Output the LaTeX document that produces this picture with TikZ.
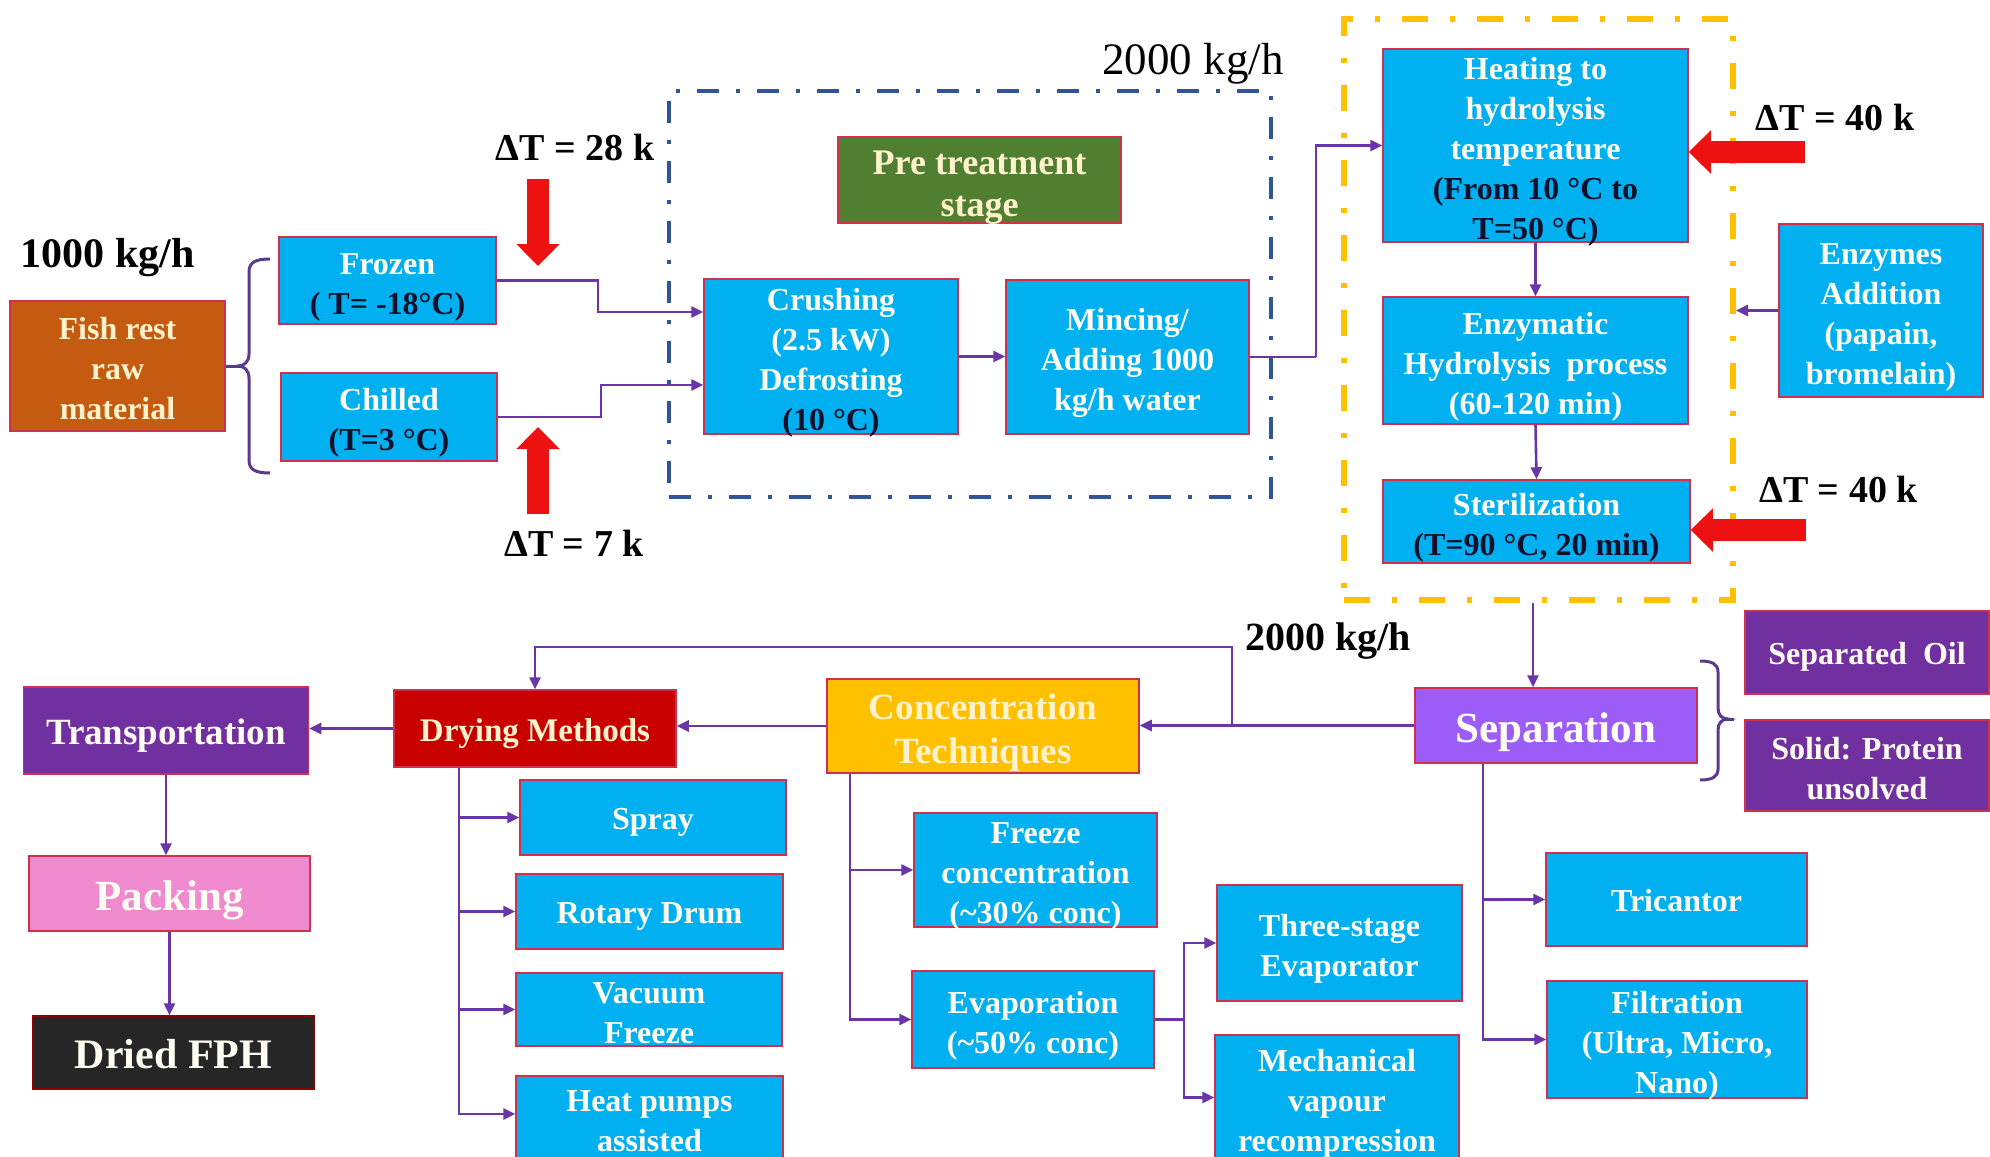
\documentclass[tikz,border=0pt]{standalone}
\usepackage{fontspec}
\setmainfont{Liberation Serif}
\usetikzlibrary{arrows.meta}
\definecolor{cblue}{HTML}{00B0F0}
\definecolor{cbord}{HTML}{D0304E}
\definecolor{cconn}{HTML}{6A35A6}
\definecolor{cbrace}{HTML}{5B3A8C}
\definecolor{cfish}{HTML}{C55A11}
\definecolor{cgreen}{HTML}{517F31}
\definecolor{corange}{HTML}{FFC000}
\definecolor{cdry}{HTML}{C80000}
\definecolor{cpurple}{HTML}{7030A0}
\definecolor{cpink}{HTML}{F08ACF}
\definecolor{cblack}{HTML}{262626}
\definecolor{csep}{HTML}{9B5CF8}
\definecolor{cdashblue}{HTML}{2F5597}
\definecolor{cred}{HTML}{EE1111}
\definecolor{ctxt}{HTML}{FFFDF2}
\definecolor{ccream}{HTML}{FFF2CC}
\definecolor{cdk}{HTML}{10102A}
\newcommand\myfs[2]{\fontsize{#1pt}{#2pt}\selectfont}
\newcommand\firstl{\rule{0pt}{1.1em}}
\begin{document}
\begin{tikzpicture}[x=1pt,y=-1pt,
  box/.style={draw=cbord, line width=1.5pt, fill=#1, text=ctxt, align=center,
    inner xsep=0pt, inner ysep=-30pt, font=\bfseries\myfs{32}{40},
    execute at begin node={\rule{0pt}{1.03em}},
    execute at end node={\rule[-0.25em]{0pt}{0pt}}},
  sz/.style 2 args={minimum width=#1pt, minimum height=#2pt},
  conn/.style={draw=cconn, line width=2.6pt, -{Triangle[length=12pt,width=11pt]}},
  plain/.style={draw=cconn, line width=2.6pt},
  bracestyle/.style={draw=cbrace, line width=3pt},
  redarrow/.style={draw=cred, line width=22pt, -{Triangle[length=22pt,width=42pt]}},
  lbl/.style={anchor=base, text=black, inner sep=0pt, font=\bfseries\myfs{38}{44}},
  bluedash/.style={draw=cdashblue, line width=4pt, dash pattern=on 22pt off 17pt on 4pt off 17pt},
  yellowdash/.style={draw=corange, line width=6pt, dash pattern=on 26pt off 22pt on 5pt off 22pt}
]
\useasboundingbox (0,0) rectangle (1990,1157);
\fill[white] (0,0) rectangle (1990,1157);
\clip (0,0) rectangle (1990,1157);

% stage frames
\node[bluedash, sz={602}{406}, inner sep=0pt] (bluebox) at (970,294) {};
\node[yellowdash, sz={389}{581}, inner sep=0pt] (ybox) at (1538.5,309.5) {};

% labels
\node[lbl, font=\bfseries\myfs{42}{48}] (kg1) at (107.5,267) {1000 kg/h};
\node[lbl, font=\myfs{45}{50}] (kg2) at (1193,74) {2000 kg/h};
\node[lbl, font=\bfseries\myfs{40}{46}] (kg3) at (1328,650) {2000 kg/h};
\node[lbl] (dt28) at (575,160) {ΔT = 28 k};
\node[lbl] (dt7) at (574,556) {ΔT = 7 k};
\node[lbl] (dt40a) at (1835,130) {ΔT = 40 k};
\node[lbl] (dt40b) at (1838.5,502) {ΔT = 40 k};

% top row
\node[box=cfish, sz={215}{130}, text=ccream] (fish) at (117.5,366) {\firstl Fish rest\\raw\\material};
\node[box=cblue, sz={217}{87}] (frozen) at (387.5,280.5) {\firstl Frozen\\\textcolor{cdk}{( T= -18°C)}};
\node[box=cblue, sz={216}{88}] (chilled) at (389,417) {\firstl Chilled\\\textcolor{cdk}{(T=3 °C)}};
\node[box=cgreen, sz={283}{86}, text=ccream, font=\bfseries\myfs{36}{42}] (pre) at (979.5,180) {\firstl Pre treatment\\stage};
\node[box=cblue, sz={254}{155}] (crush) at (831,356.5) {\firstl Crushing\\(2.5 kW)\\Defrosting\\\textcolor{cdk}{(10 °C)}};
\node[box=cblue, sz={243}{154}] (mince) at (1127.5,357) {\firstl Mincing/\\Adding 1000\\kg/h water};
\node[box=cblue, sz={305}{193}] (heat) at (1535.5,145.5) {\firstl Heating to\\hydrolysis\\temperature\\\textcolor{cdk}{(From 10 °C to}\\\textcolor{cdk}{T=50 °C)}};
\node[box=cblue, sz={305}{127}] (enz) at (1535.5,360.5) {\firstl Enzymatic\\Hydrolysis\ \ process\\(60-120 min)};
\node[box=cblue, sz={307}{83}] (ster) at (1536.5,521.5) {\firstl Sterilization\\\textcolor{cdk}{(T=90 °C, 20 min)}};
\node[box=cblue, sz={204}{173}] (enzadd) at (1881,310.5) {\firstl Enzymes\\Addition\\(papain,\\bromelain)};

% bottom row
\node[box=csep, sz={282}{75}, font=\bfseries\myfs{43}{48}] (sep) at (1556,725.5) {Separation};
\node[box=cpurple, sz={244}{83}] (oil) at (1867,652.5) {Separated\ \ Oil};
\node[box=cpurple, sz={244}{91}] (solid) at (1867,765.5) {\firstl Solid: Protein\\unsolved};
\node[box=corange, sz={312}{94}, text=ccream, font=\bfseries\myfs{37}{44}] (conc) at (983,726) {\firstl Concentration\\Techniques};
\node[box=cdry, sz={282}{77}, text=ccream, font=\bfseries\myfs{33}{40}] (dry) at (535,728.5) {Drying Methods};
\node[box=cpurple, sz={285}{87}, font=\bfseries\myfs{37}{44}] (trans) at (166,730.5) {Transportation};
\node[box=cpink, sz={281}{75}, font=\bfseries\myfs{43}{48}] (pack) at (169.5,893.5) {Packing};
\node[box=cblack, sz={281}{73}, draw=cdry!70!black, font=\bfseries\myfs{42}{48}] (dried) at (173.5,1052.5) {Dried FPH};

\node[box=cblue, sz={266}{75}] (spray) at (653,817.5) {Spray};
\node[box=cblue, sz={267}{75}] (rotary) at (649.5,911.5) {Rotary Drum};
\node[box=cblue, sz={266}{73}] (vacuum) at (649,1009.5) {\firstl Vacuum\\Freeze};
\node[box=cblue, sz={267}{84}] (heatp) at (649.5,1118) {\firstl Heat pumps\\assisted};

\node[box=cblue, sz={243}{114}] (freeze) at (1035.5,870) {\firstl Freeze\\concentration\\(\textasciitilde30\% conc)};
\node[box=cblue, sz={242}{97}] (evap) at (1033,1019.5) {\firstl Evaporation\\(\textasciitilde50\% conc)};
\node[box=cblue, sz={245}{116}] (three) at (1339.5,943) {\firstl Three-stage\\Evaporator};
\node[box=cblue, sz={244}{125}] (mech) at (1337,1097.5) {\firstl Mechanical\\vapour\\recompression};

\node[box=cblue, sz={261}{93}] (tric) at (1676.5,899.5) {Tricantor};
\node[box=cblue, sz={260}{117}] (filt) at (1677,1039.5) {\firstl Filtration\\(Ultra, Micro,\\Nano)};

% braces
\draw[bracestyle] (270,259) .. controls (256,259) and (249,262) .. (249,272) -- (249,354)
  .. controls (249,362) and (244,366) .. (238,366)
  .. controls (244,366) and (249,370) .. (249,378) -- (249,460)
  .. controls (249,470) and (256,473) .. (270,473);
\coordinate (fbr) at (240,366);
\draw[bracestyle] (fish.east) -- (fbr);
\draw[bracestyle] (1700,661) .. controls (1712,661) and (1718,664) .. (1718,672) -- (1718,708)
  .. controls (1718,715) and (1722,719) .. (1728,719)
  .. controls (1722,719) and (1718,723) .. (1718,730) -- (1718,769)
  .. controls (1718,777) and (1712,780) .. (1700,780);
\coordinate (sbr) at (1726,719);
\coordinate (sbr2) at (1734,719);
\draw[bracestyle] (sbr) -- (sbr2);

% connectors, top
\coordinate (b1) at (598,312);
\coordinate (b2) at (601,385);
\coordinate (b3) at (1316,357);
\draw[conn] (frozen.east) -| (b1) -- (b1 -| crush.west);
\draw[conn] (chilled.east) -| (b2) -- (b2 -| crush.west);
\draw[conn] (crush.east) -- (crush.east -| mince.west);
\draw[plain] (mince.east) -- (b3);
\draw[conn] (b3) |- (heat.west);
\draw[conn] (heat.south) -- (enz.north);
\draw[conn] (enz.south) -- (ster.north);
\draw[conn] (enzadd.west) -- (enzadd.west -| ybox.east);

% red heat arrows
\coordinate (r1a) at (538,179);
\coordinate (r1b) at (538,266);
\coordinate (r2a) at (538,514);
\coordinate (r2b) at (538,427);
\coordinate (r3) at (1805,152);
\coordinate (r4) at (1806,530);
\draw[redarrow] (r1a) -- (r1b);
\draw[redarrow] (r2a) -- (r2b);
\draw[redarrow] (r3) -- (r3 -| heat.east);
\draw[redarrow] (r4) -- (r4 -| ster.east);

% connectors, bottom
\coordinate (sx) at (1533,0);
\draw[conn] (ybox.south -| sx) -- (sep.north -| sx);
\draw[conn] (sep.west) -- (sep.west -| conc.east);
\coordinate (j1) at (1232,725.5);
\coordinate (j2) at (1232,647);
\draw[conn] (j1) -- (j2) -| (dry.north);
\draw[conn] (conc.west) -- (conc.west -| dry.east);
\draw[conn] (dry.west) -- (dry.west -| trans.east);
\draw[conn] (trans.south) -- (trans.south |- pack.north);
\draw[conn] (pack.south) -- (pack.south |- dried.north);

\coordinate (dx) at (459,0);
\draw[conn] (dry.south -| dx) |- (spray.west);
\draw[conn] (dry.south -| dx) |- (rotary.west);
\draw[conn] (dry.south -| dx) |- (vacuum.west);
\draw[conn] (dry.south -| dx) |- ([yshift=4pt]heatp.west);

\coordinate (cx) at (850,0);
\draw[conn] (conc.south -| cx) |- (freeze.west);
\draw[conn] (conc.south -| cx) |- (evap.west);

\coordinate (et) at (1184,1019.5);
\draw[plain] (evap.east) -- (et);
\draw[conn] (et) |- (three.west);
\draw[conn] (et) |- (mech.west);

\coordinate (tx) at (1483,0);
\draw[conn] (sep.south -| tx) |- (tric.west);
\draw[conn] (sep.south -| tx) |- (filt.west);
\end{tikzpicture}
\end{document}
